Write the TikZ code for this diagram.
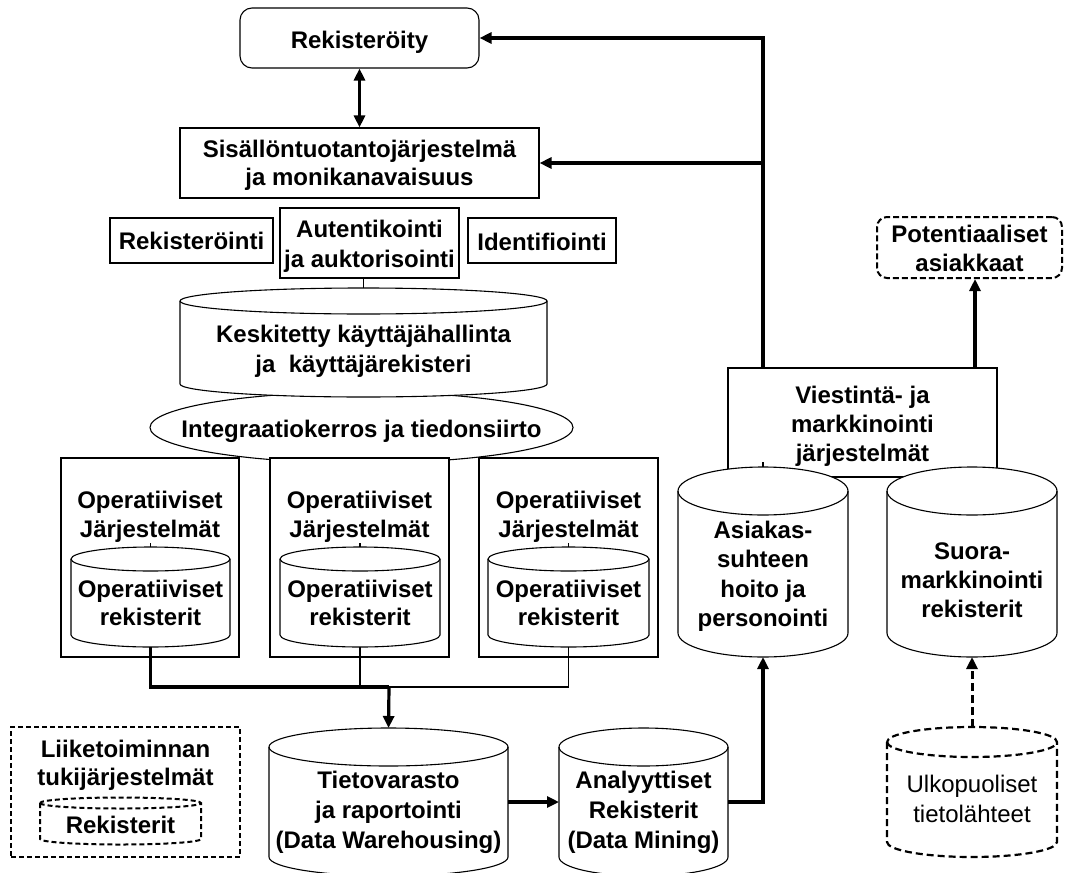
\documentclass[tikz,border=0pt]{standalone}
\usepackage{fontspec}
\setmainfont{Liberation Sans}
\usetikzlibrary{arrows.meta,shapes.geometric}
\newcommand\mycyl[7][]{%
  \pgfmathsetmacro\cylrx{(#4-#3)/2}%
  \pgfmathsetmacro\cylcx{(#4+#3)/2}%
  \filldraw[fill=white,line width=1.1pt,#1] (#3,-#5) -- (#3,-#6)
    arc[start angle=180,end angle=360,x radius=\cylrx,y radius=#7] -- (#4,-#5)
    arc[start angle=0,end angle=180,x radius=\cylrx,y radius=#7] -- cycle;
  \draw[line width=1.1pt,#1] (#3,-#5) arc[start angle=180,end angle=360,x radius=\cylrx,y radius=#7];
  \coordinate (#2-top) at ({\cylcx},{-(#5-#7)});
  \coordinate (#2-bot) at ({\cylcx},{-(#6+#7)});
  \coordinate (#2-west) at ({#3},{-(#5+#6)/2});
  \coordinate (#2-east) at ({#4},{-(#5+#6)/2});
}
\begin{document}
\begin{tikzpicture}[x=1pt,y=1pt,
  box/.style={draw,line width=1.1pt,fill=white,inner sep=0},
  dbox/.style={draw,line width=2pt,dash pattern=on 5pt off 3pt,fill=white,inner sep=0},
  lbl/.style={font=\fontsize{24}{29}\selectfont\bfseries,align=center,inner sep=0,anchor=north},
  rlbl/.style={font=\fontsize{24}{30}\selectfont,align=center,inner sep=0,anchor=north},
  tip/.style={-{Triangle[length=12pt,width=11pt]}},
  arr/.style={line width=3.2pt,tip},
  bigline/.style={line width=3.2pt},
  thinline/.style={line width=1.1pt},
  darr/.style={line width=3pt,dash pattern=on 8pt off 4pt,tip}]
\useasboundingbox (0,0) rectangle (1067,-872);

% ---- top boxes
\node[box,rounded corners=12pt,minimum width=239,minimum height=60] (reg) at (359.5,-38) {};
\node[lbl] (treg) at (359.5,-30.7) {Rekisteröity};
\node[box,minimum width=359,minimum height=70] (sis) at (359.5,-163) {};
\node[lbl,font=\fontsize{24}{28}\selectfont\bfseries] (tsis) at (359.5,-139.7) {Sisällöntuotantojärjestelmä\\ja monikanavaisuus};

\node[box,minimum width=163,minimum height=45] (rekint) at (191.5,-240.5) {};
\node[lbl] (trekint) at (191.5,-231.7) {Rekisteröinti};
\node[box,minimum width=179,minimum height=70] (aut) at (369.5,-243) {};
\node[lbl,font=\fontsize{24}{30}\selectfont\bfseries] (taut) at (369.5,-219.7) {Autentikointi\\ja auktorisointi};
\node[box,minimum width=148,minimum height=45] (ident) at (542,-240.5) {};
\node[lbl] (tident) at (542,-232.7) {Identifiointi};

% ---- integration ellipse and central cylinder
\node[draw,ellipse,line width=1.1pt,fill=white,minimum width=423,minimum height=71,inner sep=0] (integ) at (361.5,-427.5) {};
\node[lbl] (tinteg) at (361.5,-419.7) {Integraatiokerros ja tiedonsiirto};
\mycyl{kesk}{180}{547}{301}{384}{13}
\node[lbl,font=\fontsize{24}{30}\selectfont\bfseries] (tkesk) at (363.5,-324.7) {Keskitetty käyttäjähallinta\\ja~ käyttäjärekisteri};
\draw[thinline] (kesk-top) -- (kesk-top |- aut.south);

% ---- operative systems
\node[box,minimum width=178,minimum height=199] (op1) at (150,-557.5) {};
\node[box,minimum width=179,minimum height=199] (op2) at (359.5,-557.5) {};
\node[box,minimum width=179,minimum height=199] (op3) at (568.5,-557.5) {};
\node[lbl] (top1) at (150,-490.7) {Operatiiviset\\Järjestelmät};
\node[lbl] (top2) at (359.5,-490.7) {Operatiiviset\\Järjestelmät};
\node[lbl] (top3) at (568.5,-490.7) {Operatiiviset\\Järjestelmät};
\mycyl{c1}{71}{230}{559}{635}{12}
\mycyl{c2}{280}{440}{559}{635}{12}
\mycyl{c3}{488}{649}{559}{635}{12}
\node[lbl,font=\fontsize{24}{28}\selectfont\bfseries] (tc1) at (150.5,-579.7) {Operatiiviset\\rekisterit};
\node[lbl,font=\fontsize{24}{28}\selectfont\bfseries] (tc2) at (360,-579.7) {Operatiiviset\\rekisterit};
\node[lbl,font=\fontsize{24}{28}\selectfont\bfseries] (tc3) at (568.5,-579.7) {Operatiiviset\\rekisterit};
\draw[thinline] (c1-top) -- ++(0,4);
\draw[thinline] (c2-top) -- ++(0,4);
\draw[thinline] (c3-top) -- ++(0,4);

% ---- business support (dashed)
\node[dbox,minimum width=229,minimum height=130] (liike) at (125.5,-792) {};
\node[lbl,font=\fontsize{24}{28}\selectfont\bfseries] (tliike) at (125.5,-739.7) {Liiketoiminnan\\tukijärjestelmät};
\mycyl[line width=2pt,dash pattern=on 5pt off 3pt]{rek}{40}{201}{803}{839}{5.5}
\node[lbl] (trek) at (120.5,-815.7) {Rekisterit};

% ---- warehouse and analytics
\mycyl{tv}{269}{508}{747}{857}{19}
\node[lbl,font=\fontsize{24}{30}\selectfont\bfseries] (ttv) at (388.5,-770.7) {Tietovarasto\\ja raportointi\\(Data Warehousing)};
\mycyl{an}{559}{728}{747}{857}{19}
\node[lbl,font=\fontsize{24}{30}\selectfont\bfseries] (tan) at (643.5,-770.7) {Analyyttiset\\Rekisterit\\(Data Mining)};

% ---- marketing side
\node[box,minimum width=269,minimum height=109] (viest) at (862.5,-422.5) {};
\node[lbl] (tviest) at (862.5,-385.7) {Viestintä- ja\\markkinointi\\järjestelmät};
\mycyl{asi}{678}{848}{491}{633}{24}
\node[lbl,font=\fontsize{24}{29.5}\selectfont\bfseries] (tasi) at (763,-520.7) {Asiakas-\\suhteen\\hoito ja\\personointi};
\mycyl{suo}{887}{1057}{491}{633}{24}
\node[lbl] (tsuo) at (972,-542.7) {Suora-\\markkinointi\\rekisterit};
\draw[thinline] (asi-top) -- ++(0,5);

\node[draw,line width=2pt,dash pattern=on 6pt off 3pt,rounded corners=10pt,fill=white,inner sep=0,minimum width=185,minimum height=61] (pot) at (969.5,-247.5) {};
\node[lbl] (tpot) at (969.5,-224.7) {Potentiaaliset\\asiakkaat};

\mycyl[line width=2.2pt,dash pattern=on 7pt off 4pt]{ulk}{887}{1057}{742}{842}{15}
\node[rlbl] (tulk) at (972,-774.7) {Ulkopuoliset\\tietolähteet};

% ---- connectors
\coordinate (vx) at (763,0);
\coordinate (px) at (975,0);
\coordinate (jn) at (389,-687);
\draw[arr] (viest.north -| vx) |- (reg.east);
\draw[arr] (sis.east -| vx) -- (sis.east);
\draw[line width=3.2pt,{Triangle[length=12pt,width=11pt]}-{Triangle[length=12pt,width=11pt]}] (reg.south) -- (sis.north);
\draw[thinline] (c2-bot) -- (c2-bot |- jn);
\draw[thinline] (c3-bot) |- (jn);
\draw[bigline] (c1-bot) |- (jn);
\draw[arr] (jn) -- (tv-top);
\draw[arr] (tv-east) -- (an-west);
\draw[arr] (an-east) -| (asi-bot);
\draw[arr] (viest.north -| px) -- (pot.south -| px);
\draw[darr] (ulk-top) -- (suo-bot);
\end{tikzpicture}
\end{document}
